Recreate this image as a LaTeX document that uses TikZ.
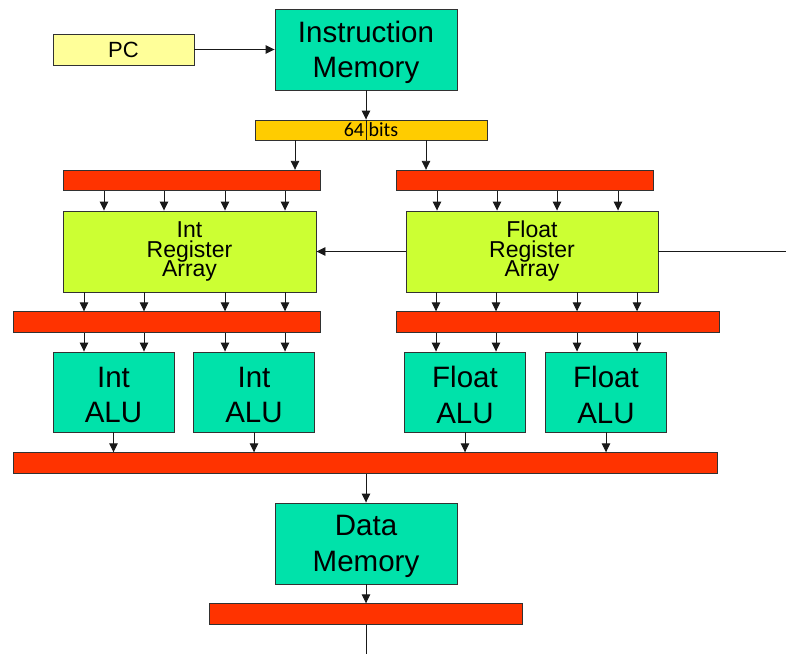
\documentclass[tikz,border=0pt]{standalone}
\usepackage{fontspec}
\setmainfont{Liberation Sans}
\newfontfamily\barfont{Carlito}
\usetikzlibrary{arrows.meta}

\definecolor{unitgreen}{RGB}{0,226,170}
\definecolor{pcyellow}{RGB}{255,255,153}
\definecolor{busorange}{RGB}{255,204,0}
\definecolor{latchred}{RGB}{255,51,0}
\definecolor{reglime}{RGB}{204,255,51}
\definecolor{edge}{RGB}{50,50,50}

\begin{document}
\begin{tikzpicture}[x=1pt,y=-1pt,
  box/.style={draw=edge, line width=0.9pt, inner sep=0pt, rectangle},
  unit/.style={box, fill=unitgreen, minimum height=81pt},
  latch/.style={box, fill=latchred, minimum height=20.5pt},
  regfile/.style={box, fill=reglime, minimum width=253pt, minimum height=81pt,
    align=center, font={\fontsize{23}{19.5}\selectfont\lineskiplimit=-50pt}},
  bigtxt/.style={inner sep=0pt, align=center, font={\fontsize{29.5}{35.5}\selectfont}},
  conn/.style={draw=black!90, line width=0.9pt},
  arr/.style={conn, -{Triangle[length=9pt,width=8.5pt]}}
]
\useasboundingbox (0,0) rectangle (786,654);

% fetch stage
\node[box, fill=pcyellow, minimum width=141pt, minimum height=31pt,
      font={\fontsize{22}{26}\selectfont}] (pc) at (123.5,49.5) {PC};
\node[unit, minimum width=182pt] (im) at (366,49.5) {};
\node[bigtxt] (imt) at ([yshift=-3pt]im.center) {Instruction\\Memory};
\node[box, fill=busorange, minimum width=232pt, minimum height=20pt,
      font={\barfont\fontsize{20}{22}\selectfont}] (bits) at (371,130) {64 bits};

% pipeline latches
\node[latch, minimum width=257pt] (rbA) at (191.5,180.5) {};
\node[latch, minimum width=257pt] (rbB) at (524.5,180.5) {};
\node[latch, minimum width=307pt] (rbC) at (166.5,322) {};
\node[latch, minimum width=323pt] (rbD) at (557.5,322) {};
\node[latch, minimum width=704pt] (rbE) at (365,463) {};
\node[latch, minimum width=313pt] (rbF) at (365.5,614) {};

% register files
\node[regfile] (ira) at (189.5,251.5) {Int\\Register\\Array};
\node[regfile, minimum width=252pt] (fra) at (532,251.5) {Float\\Register\\Array};

% execution units
\node[unit, minimum width=121pt, minimum height=80pt] (aluA) at (113.5,392) {};
\node[unit, minimum width=121pt, minimum height=80pt] (aluB) at (254,392) {};
\node[unit, minimum width=121pt, minimum height=80pt] (aluC) at (465,392) {};
\node[unit, minimum width=121pt, minimum height=80pt] (aluD) at (606,392) {};
\node[bigtxt] (aluAt) at ([yshift=-3pt]aluA.center) {Int\\ALU};
\node[bigtxt] (aluBt) at ([yshift=-3pt]aluB.center) {Int\\ALU};
\node[bigtxt] (aluCt) at ([yshift=-3pt]aluC.center) {Float\\ALU};
\node[bigtxt] (aluDt) at ([yshift=-3pt]aluD.center) {Float\\ALU};

% data memory
\node[unit, minimum width=182pt] (dm) at (366,543.5) {};
\node[bigtxt] (dmt) at ([yshift=-3pt]dm.center) {Data\\Memory};

% free ends
\coordinate (inR) at (786,251.5);
\coordinate (outB) at (366,654);

% connections
\draw[arr] (pc) -- (im);
\draw[arr] (im.south) -- (im.south |- bits.north);
\draw[conn] (im.south |- bits.north) -- (im.south |- bits.south);
\draw[arr] (bits.south -| 295,0) -- (rbA.north -| 295,0);
\draw[arr] (bits.south -| 426,0) -- (rbB.north -| 426,0);

\foreach \x in {104,164,225,285}
  \draw[arr] (rbA.south -| \x,0) -- (ira.north -| \x,0);
\foreach \x in {437,497,557,618}
  \draw[arr] (rbB.south -| \x,0) -- (fra.north -| \x,0);

\draw[conn] (inR) -- (fra.east);
\draw[arr] (fra.west) -- (ira.east);

\foreach \x in {84,144,225,285}
  \draw[arr] (ira.south -| \x,0) -- (rbC.north -| \x,0);
\foreach \x in {436,496,577,637}
  \draw[arr] (fra.south -| \x,0) -- (rbD.north -| \x,0);

\foreach \x/\u in {84/aluA,144/aluA,225/aluB,285/aluB}
  \draw[arr] (rbC.south -| \x,0) -- (\u.north -| \x,0);
\foreach \x/\u in {436/aluC,496/aluC,577/aluD,637/aluD}
  \draw[arr] (rbD.south -| \x,0) -- (\u.north -| \x,0);

\foreach \u in {aluA,aluB,aluC,aluD}
  \draw[arr] (\u.south) -- (\u.south |- rbE.north);

\draw[arr] (rbE.south -| dm.north) -- (dm.north);
\draw[arr] (dm.south) -- (dm.south |- rbF.north);
\draw[conn] (rbF.south -| outB) -- (outB);
\end{tikzpicture}
\end{document}
